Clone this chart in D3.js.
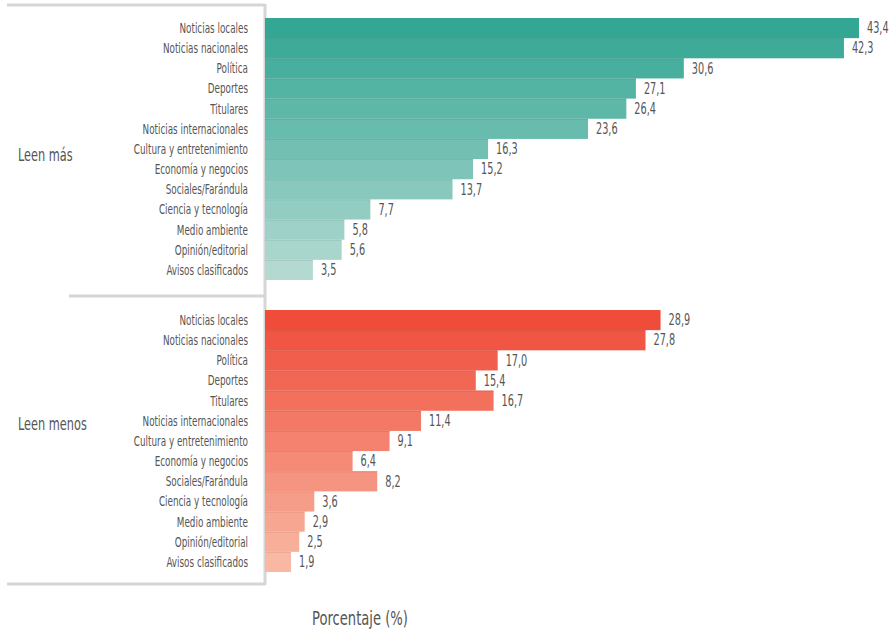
<!DOCTYPE html>
<html><head><meta charset="utf-8">
<script src="https://cdn.jsdelivr.net/npm/d3@7"></script>
<style>
body{margin:0;background:#fff;}
text{font-family:"DejaVu Sans Condensed","DejaVu Sans",sans-serif;font-stretch:condensed;}
</style></head>
<body><svg id="c" width="892" height="632"></svg>
<script>
const categories = ["Noticias locales","Noticias nacionales","Política","Deportes","Titulares","Noticias internacionales","Cultura y entretenimiento","Economía y negocios","Sociales/Farándula","Ciencia y tecnología","Medio ambiente","Opinión/editorial","Avisos clasificados"];
const leenMas   = [43.4,42.3,30.6,27.1,26.4,23.6,16.3,15.2,13.7,7.7,5.8,5.6,3.5];
const leenMenos = [28.9,27.8,17.0,15.4,16.7,11.4,9.1,6.4,8.2,3.6,2.9,2.5,1.9];
const groupNames = ["Leen más","Leen menos"];
const axisTitle = "Porcentaje (%)";

const svg = d3.select("#c");
const x = d3.scaleLinear().domain([0,43.4]).range([265,859]);
const fmt = v => d3.format(".1f")(v).replace(".",",");

const groups = [
  {name:groupNames[0], values:leenMas, y0:18, y1:280, c0:"#33a794", c1:"#b3d9d1", labY:155},
  {name:groupNames[1], values:leenMenos, y0:310, y1:572, c0:"#f04c3a", c1:"#f8b8a3", labY:424}
];

const lc = "#d6d6d6";
const lines = [[7,5,265,5],[265,4,265,585],[69,296,265,296],[7,584,265,584]];
svg.selectAll("line.br").data(lines).enter().append("line")
  .attr("x1",d=>d[0]).attr("y1",d=>d[1]).attr("x2",d=>d[2]).attr("y2",d=>d[3])
  .attr("stroke",lc).attr("stroke-width",3);

function narrowText(sel, sx){
  sel.attr("transform", function(){
    const x0 = +this.getAttribute("data-x"), y0 = +this.getAttribute("data-y");
    return `translate(${x0},${y0}) scale(${sx},1)`;
  });
}

groups.forEach(g=>{
  const y = d3.scaleBand().domain(categories).range([g.y0,g.y1]).padding(0);
  const col = d3.interpolateRgb(g.c0,g.c1);
  const n = categories.length;
  const gg = svg.append("g");
  const rows = categories.map((c,i)=>({c, v:g.values[i], i}));
  gg.selectAll("rect").data(rows).enter().append("rect")
    .attr("x",x(0)).attr("y",d=>y(d.c)).attr("width",d=>x(d.v)-x(0)).attr("height",y.bandwidth())
    .attr("fill",d=>col(d.i/(n-1)));
  gg.selectAll("line.sep").data(rows.slice(1)).enter().append("line")
    .attr("x1",x(0)).attr("x2",d=>x(d.v)).attr("y1",d=>y(d.c)+0.5).attr("y2",d=>y(d.c)+0.5)
    .attr("stroke",d=>d3.color(col(d.i/(n-1))).darker(0.4)).attr("stroke-opacity",0.6).attr("stroke-width",1);
  gg.selectAll("text.cat").data(rows).enter().append("text")
    .attr("data-x",248).attr("data-y",d=>y(d.c)+y.bandwidth()/2).attr("dy","0.35em")
    .attr("text-anchor","end").attr("fill","#555").attr("font-size",14)
    .text(d=>d.c).call(narrowText,0.7);
  gg.selectAll("text.val").data(rows).enter().append("text")
    .attr("data-x",d=>x(d.v)+8).attr("data-y",d=>y(d.c)+y.bandwidth()/2).attr("dy","0.35em")
    .attr("fill","#555").attr("font-size",15)
    .text(d=>fmt(d.v)).call(narrowText,0.72);
  svg.append("text").attr("data-x",18).attr("data-y",g.labY).attr("dy","0.35em")
    .attr("fill","#555").attr("font-size",18).text(g.name).call(narrowText,0.7);
});

svg.append("text").attr("data-x",360).attr("data-y",618).attr("dy","0.35em").attr("text-anchor","middle")
  .attr("fill","#555").attr("font-size",20).text(axisTitle).call(narrowText,0.73);
</script></body></html>
